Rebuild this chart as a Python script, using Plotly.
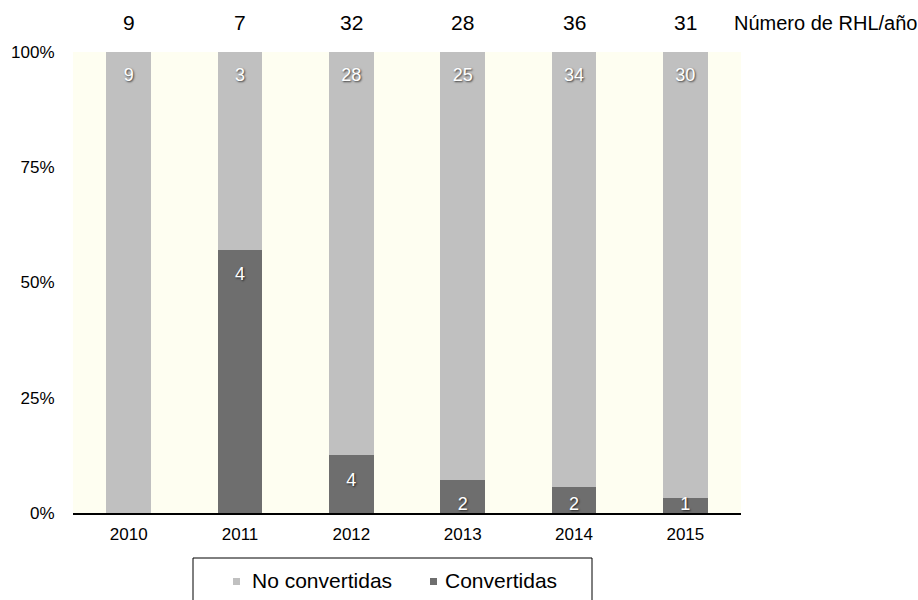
import plotly.graph_objects as go

years = ["2010", "2011", "2012", "2013", "2014", "2015"]
totals = [9, 7, 32, 28, 36, 31]
no_convertidas = [9, 3, 28, 25, 34, 30]
convertidas = [0, 4, 4, 2, 2, 1]
series_names = ["No convertidas", "Convertidas"]

LIGHT = "#c0c0c0"
DARK = "#6e6e6e"
BG = "#fefef1"
FONT = "Liberation Sans, Arial, sans-serif"

W, H = 918, 600
ML, MR, MT, MB = 73, 177, 52, 87
PH = H - MT - MB
PW = W - ML - MR

conv_pct = [c / t * 100 for c, t in zip(convertidas, totals)]
noconv_pct = [100 - p for p in conv_pct]


def px_to_data(px):
    return px / PH * 100


def px_x(px):
    return (px - ML) / PW


def px_y(py):
    return (PH + MT - py) / PH


fig = go.Figure()
fig.add_trace(go.Bar(x=years, y=conv_pct, marker=dict(color=DARK, line=dict(width=0)),
                     name=series_names[1], showlegend=False, hoverinfo="skip"))
fig.add_trace(go.Bar(x=years, y=noconv_pct, marker=dict(color=LIGHT, line=dict(width=0)),
                     name=series_names[0], showlegend=False, hoverinfo="skip"))

# value labels inside bars
lab_x, lab_y, lab_t = [], [], []
for yr, n, c, cp in zip(years, no_convertidas, convertidas, conv_pct):
    lab_x.append(yr)
    lab_y.append(100 - px_to_data(24))
    lab_t.append(str(n))
    if c > 0:
        lab_x.append(yr)
        lab_y.append(max(cp - px_to_data(26), px_to_data(8)))
        lab_t.append(str(c))
fig.add_trace(go.Scatter(x=lab_x, y=lab_y, text=lab_t, mode="text",
                         textposition="middle center", cliponaxis=True,
                         textfont=dict(family=FONT, size=18, color="white",
                                       shadow="1px 1px 2px rgba(0,0,0,0.7)"),
                         showlegend=False, hoverinfo="skip"))

# totals row above the plot (x = category serial number on the category axis)
annotations = []
for i, t in enumerate(totals):
    annotations.append(dict(x=i, xref="x", y=px_y(22.5), yref="paper",
                            text=str(t), showarrow=False,
                            font=dict(family=FONT, size=21, color="black"),
                            xanchor="center", yanchor="middle"))
annotations.append(dict(x=px_x(732), xref="paper", y=px_y(23), yref="paper",
                        text="Número de RHL/año", showarrow=False,
                        font=dict(family=FONT, size=20, color="black"),
                        xanchor="left", yanchor="middle"))

# legend box, drawn manually
shapes = [dict(type="rect", xref="paper", yref="paper",
               x0=px_x(193), x1=px_x(592), y0=px_y(558), y1=px_y(640),
               line=dict(color="black", width=1), fillcolor="rgba(0,0,0,0)")]
legend_items = [(series_names[0], LIGHT, 233, 250), (series_names[1], DARK, 430, 443)]
for name, col, sx, tx in legend_items:
    shapes.append(dict(type="rect", xref="paper", yref="paper",
                       x0=px_x(sx), x1=px_x(sx + 7), y0=px_y(578), y1=px_y(585),
                       line=dict(width=0), fillcolor=col))
    annotations.append(dict(x=px_x(tx), xref="paper", y=px_y(580), yref="paper",
                            text=name, showarrow=False,
                            font=dict(family=FONT, size=21, color="black"),
                            xanchor="left", yanchor="middle"))

fig.update_layout(
    width=W, height=H,
    margin=dict(l=ML, r=MR, t=MT, b=MB, pad=0),
    barmode="stack", bargap=0.6,
    paper_bgcolor="white", plot_bgcolor=BG,
    font=dict(family=FONT, color="black"),
    showlegend=False,
    annotations=annotations, shapes=shapes,
    xaxis=dict(type="category", categoryorder="array", categoryarray=years,
               range=[-0.5, len(years) - 0.5],
               showline=True, linecolor="black", linewidth=2,
               ticks="outside", ticklen=5, tickcolor="rgba(0,0,0,0)",
               tickfont=dict(family=FONT, size=17, color="black"),
               showgrid=False, zeroline=False, fixedrange=True),
    yaxis=dict(range=[0, 100], tickmode="array", tickvals=[0, 25, 50, 75, 100],
               ticktext=["0%", "25%", "50%", "75%", "100%"],
               ticks="outside", ticklen=14, tickcolor="rgba(0,0,0,0)",
               tickfont=dict(family=FONT, size=17, color="black"),
               showgrid=False, zeroline=False, showline=False, fixedrange=True),
)

fig.write_html("out.html", config={"displayModeBar": False})
